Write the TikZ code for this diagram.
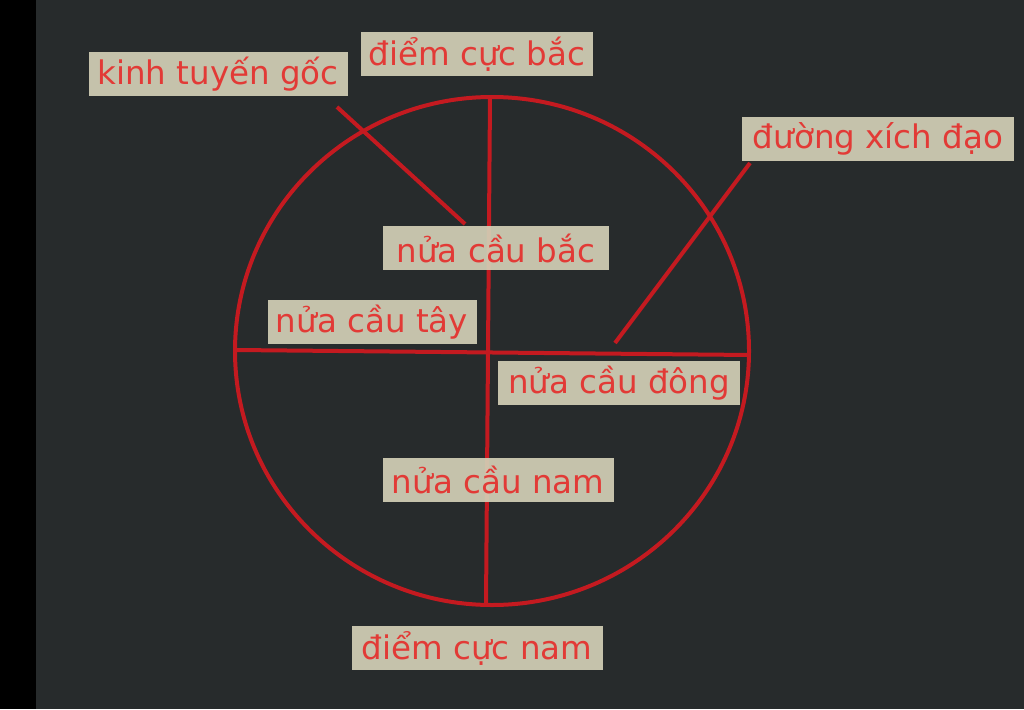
\documentclass[tikz,border=0pt]{standalone}
\usepackage{fontspec}
\setmainfont{DejaVu Sans}
\definecolor{bg}{HTML}{272B2C}
\definecolor{ln}{HTML}{C41A20}
\definecolor{tx}{HTML}{E23A36}
\definecolor{bx}{HTML}{D2CEB5}
\begin{document}
\begin{tikzpicture}[x=1pt,y=-1pt,
  lab/.style={fill=bx,fill opacity=0.93,text opacity=1,text=tx,inner xsep=2pt,inner ysep=0pt,
     minimum height=44pt,font=\fontsize{32.5}{35}\selectfont,anchor=center},
  redline/.style={draw=ln,line width=4pt}]
\useasboundingbox (0,0) rectangle (1024,709);
\fill[bg] (0,0) rectangle (1024,709);
\fill[black] (0,0) rectangle (36,709);
% globe
\draw[redline] (492,351) ellipse [x radius=257, y radius=254];
\coordinate (np) at (490,97);
\coordinate (sp) at (486,605);
\coordinate (we) at (236,350);
\coordinate (ee) at (750,355);
\draw[redline] (np) -- (sp);
\draw[redline] (we) -- (ee);
\coordinate (k1) at (337,107);
\coordinate (k2) at (465,224);
\coordinate (x1) at (750,163);
\coordinate (x2) at (615,343);
\draw[redline] (k1) -- (k2);
\draw[redline] (x1) -- (x2);
% labels
\node[lab,minimum width=259pt] (kt) at (218,74) {kinh tuyến gốc};
\node[lab,minimum width=232pt] (cb) at (477,54) {điểm cực bắc};
\node[lab,minimum width=272pt] (xd) at (878,139) {đường xích đạo};
\node[lab,minimum width=226pt] (nb) at (496,248) {nửa cầu bắc};
\node[lab,minimum width=209pt] (nt) at (372,322) {nửa cầu tây};
\node[lab,minimum width=242pt] (nd) at (619,383) {nửa cầu đông};
\node[lab,minimum width=231pt] (nn) at (498,480) {nửa cầu nam};
\node[lab,minimum width=251pt] (cn) at (477,648) {điểm cực nam};
\end{tikzpicture}
\end{document}
